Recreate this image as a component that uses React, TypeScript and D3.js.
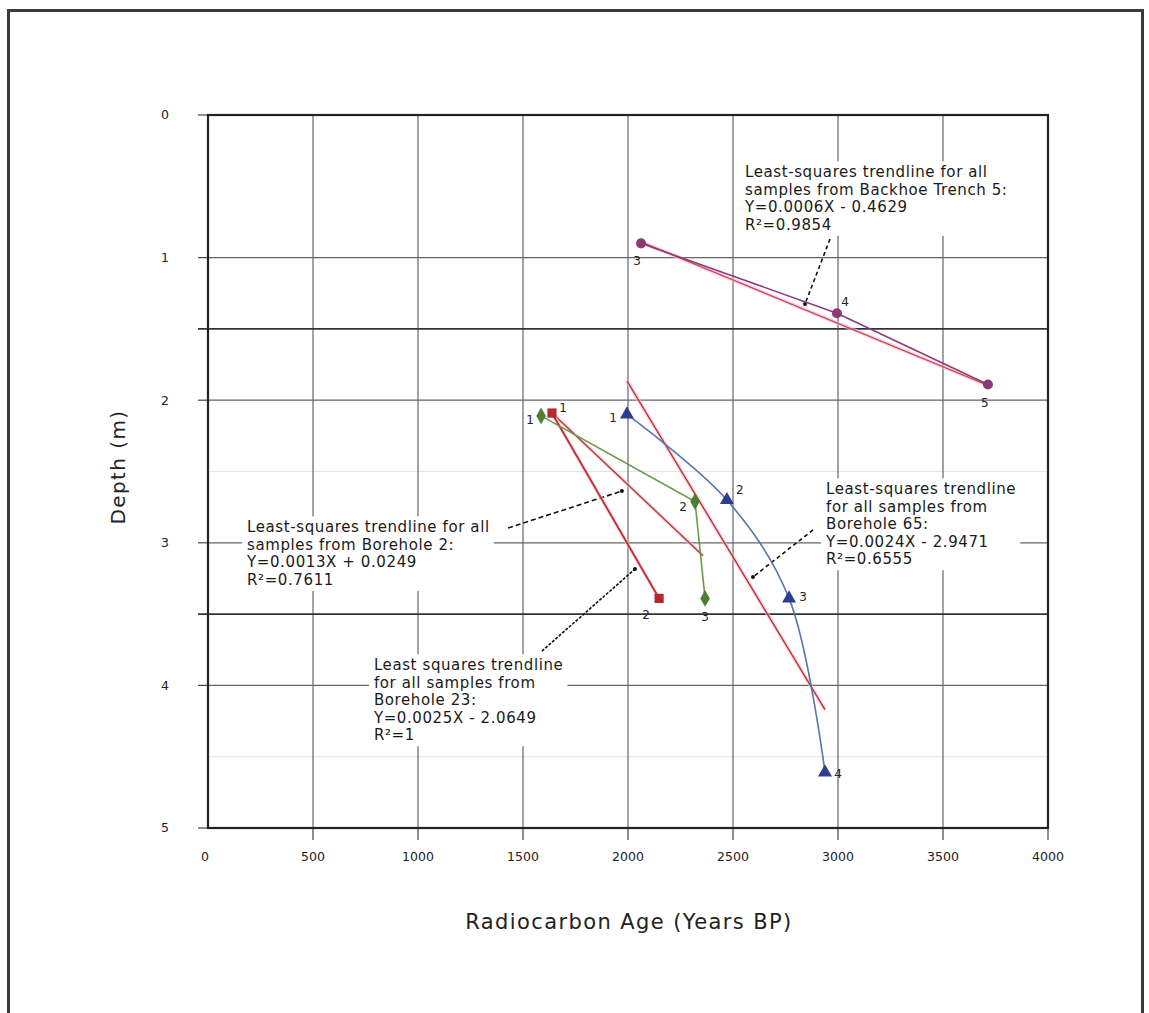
import React, { useEffect, useRef } from 'react';
import * as d3 from 'd3';

// ---------- data ----------
const ageTicks = [0, 500, 1000, 1500, 2000, 2500, 3000, 3500, 4000];
const depthTicks = [0, 1, 2, 3, 4, 5];
const darkDepthLines = [1.5, 3.5];
const faintDepthLines = [2.5, 4.5];

const trench5Age = [2062, 2995, 3714];
const trench5Depth = [0.9, 1.39, 1.89];
const trench5Labels = ['3', '4', '5'];

const bh23Age = [1638, 2148];
const bh23Depth = [2.09, 3.39];
const bh23Labels = ['1', '2'];

const bh2Age = [1586, 2319, 2367];
const bh2Depth = [2.11, 2.71, 3.39];
const bh2Labels = ['1', '2', '3'];

const bh65Age = [1995, 2471, 2767, 2938];
const bh65Depth = [2.1, 2.7, 3.39, 4.61];
const bh65Labels = ['1', '2', '3', '4'];

// trendline end points (age, depth)
const trendTrench5: [number, number][] = [[2062, 0.89], [3720, 1.9]];
const trendBh2: [number, number][] = [[1638, 2.09], [2357, 3.09]];
const trendBh23: [number, number][] = [[1638, 2.09], [2148, 3.39]];
const trendBh65: [number, number][] = [[1995, 1.865], [2938, 4.17]];

const noteTrench5 = ['Least-squares trendline for all', 'samples from Backhoe Trench 5:', 'Y=0.0006X - 0.4629', 'R²=0.9854'];
const noteBh2 = ['Least-squares trendline for all', 'samples from Borehole 2:', 'Y=0.0013X + 0.0249', 'R²=0.7611'];
const noteBh23 = ['Least squares trendline', 'for all samples from', 'Borehole 23:', 'Y=0.0025X - 2.0649', 'R²=1'];
const noteBh65 = ['Least-squares trendline', 'for all samples from', 'Borehole 65:', 'Y=0.0024X - 2.9471', 'R²=0.6555'];

// ---------- layout / style ----------
const W = 1149, H = 1013;
const PL = 208, PR = 1048, PT = 115, PB = 828;
const FONT = "'DejaVu Sans', sans-serif";

export default function App() {
  const ref = useRef<SVGSVGElement>(null);
  useEffect(() => {
    document.body.style.margin = '0';
    const svg = d3.select(ref.current);
    svg.selectAll('*').remove();
    const x = d3.scaleLinear().domain([0, 4000]).range([PL, PR]);
    const y = d3.scaleLinear().domain([0, 5]).range([PT, PB]);

    svg.append('rect').attr('x', 0).attr('y', 0).attr('width', W).attr('height', H).attr('fill', '#fff');
    svg.append('rect').attr('x', 8.5).attr('y', 10.5).attr('width', 1134).attr('height', 1030)
      .attr('fill', 'none').attr('stroke', '#3a3a3a').attr('stroke-width', 3);

    const g = svg.append('g');
    // grid
    g.selectAll('.fh').data(faintDepthLines).join('line')
      .attr('x1', PL).attr('x2', PR).attr('y1', d => y(d)).attr('y2', d => y(d))
      .attr('stroke', '#e2e2e2').attr('stroke-width', 1);
    g.selectAll('.vg').data(ageTicks.slice(1, -1)).join('line')
      .attr('x1', d => x(d)).attr('x2', d => x(d)).attr('y1', PT).attr('y2', PB)
      .attr('stroke', '#666').attr('stroke-width', 1.2);
    g.selectAll('.hg').data(depthTicks.slice(1, -1)).join('line')
      .attr('x1', PL).attr('x2', PR).attr('y1', d => y(d)).attr('y2', d => y(d))
      .attr('stroke', '#666').attr('stroke-width', 1.2);
    g.selectAll('.dh').data(darkDepthLines).join('line')
      .attr('x1', PL - 10).attr('x2', PR).attr('y1', d => y(d)).attr('y2', d => y(d))
      .attr('stroke', '#333').attr('stroke-width', 1.6);

    // ticks
    g.selectAll('.yt').data(depthTicks).join('line')
      .attr('x1', PL - 10).attr('x2', PL).attr('y1', d => y(d)).attr('y2', d => y(d))
      .attr('stroke', '#444').attr('stroke-width', 1.2);
    g.selectAll('.xt').data(ageTicks.slice(1)).join('line')
      .attr('x1', d => x(d)).attr('x2', d => x(d)).attr('y1', PB).attr('y2', PB + 12)
      .attr('stroke', '#444').attr('stroke-width', 1.2);

    // frame
    g.append('rect').attr('x', PL).attr('y', PT).attr('width', PR - PL).attr('height', PB - PT)
      .attr('fill', 'none').attr('stroke', '#222').attr('stroke-width', 2.2);

    // tick labels
    g.selectAll('.yl').data(depthTicks).join('text')
      .attr('x', 165).attr('y', d => y(d)).attr('dy', '0.35em').attr('text-anchor', 'middle')
      .attr('font-family', FONT).attr('font-size', 12.5).attr('fill', '#222').text(d => String(d));
    g.selectAll('.xl').data(ageTicks).join('text')
      .attr('x', d => x(d) - (d === 0 ? 3 : 0)).attr('y', 857).attr('dy', '0.35em').attr('text-anchor', 'middle')
      .attr('font-family', FONT).attr('font-size', 12.5).attr('fill', '#222').text(d => String(d));

    // axis titles
    g.append('text').attr('transform', `translate(118,${467}) rotate(-90)`)
      .attr('text-anchor', 'middle').attr('dy', '0.35em').attr('font-family', FONT).attr('font-size', 20)
      .attr('letter-spacing', 1.4).attr('fill', '#222')
      .text('Depth (m)');
    g.append('text').attr('x', 629).attr('y', 922).attr('dy', '0.35em').attr('text-anchor', 'middle')
      .attr('font-family', FONT).attr('font-size', 21).attr('letter-spacing', 1.4).attr('fill', '#222')
      .text('Radiocarbon Age (Years BP)');

    // annotation boxes with text
    const note = (lines: string[], ax: number, ad: number, lh: number) => {
      const ng = g.append('g');
      const bg = ng.append('rect').attr('fill', '#fff');
      const t = ng.append('text').attr('font-family', FONT).attr('font-size', 15)
        .attr('letter-spacing', 0.6).attr('fill', '#1a1a1a');
      lines.forEach((l, i) => {
        t.append('tspan').attr('x', x(ax)).attr('y', y(ad) + i * lh).attr('dy', '0.35em').text(l);
      });
      const bb = (t.node() as SVGTextElement).getBBox();
      bg.attr('x', bb.x - 4).attr('y', bb.y - 2).attr('width', bb.width + 8).attr('height', bb.height + 4);
    };
    note(noteTrench5, 2557, 0.4, 17.5);
    note(noteBh2, 186, 2.89, 17.5);
    note(noteBh23, 790, 3.857, 17.5);
    note(noteBh65, 2943, 2.623, 17.5);

    // leader lines
    const leader = (a: [number, number], b: [number, number], dash: string) => {
      g.append('line').attr('x1', x(a[0])).attr('y1', y(a[1])).attr('x2', x(b[0])).attr('y2', y(b[1]))
        .attr('stroke', '#111').attr('stroke-width', 1.6).attr('stroke-dasharray', dash);
      g.append('circle').attr('cx', x(b[0])).attr('cy', y(b[1])).attr('r', 2).attr('fill', '#111');
    };
    leader([2962, 0.87], [2843, 1.325], '4,3');
    leader([1429, 2.896], [1971, 2.637], '5,3');
    leader([1590, 3.759], [2033, 3.184], '3,1.5');
    leader([2881, 2.91], [2595, 3.24], '4,3');

    // trendlines
    const trend = (pts: [number, number][], color: string) => {
      const l = d3.line<[number, number]>().x(d => x(d[0])).y(d => y(d[1]));
      g.append('path').attr('d', l(pts)).attr('stroke', '#f6c4cc').attr('stroke-width', 4).attr('fill', 'none').attr('opacity', 0.6);
      g.append('path').attr('d', l(pts)).attr('stroke', color).attr('stroke-width', 1.4).attr('fill', 'none');
    };
    trend(trendTrench5, '#cc4866');
    trend(trendBh2, '#b23a3e');
    trend(trendBh23, '#c0303a');
    trend(trendBh65, '#c0303a');

    // series
    type S = { ages: number[]; depths: number[]; labels: string[]; line: string; mark: string; sym: d3.SymbolType; size: number; curve: d3.CurveFactory; off: [number, number][] };
    const series: S[] = [
      { ages: trench5Age, depths: trench5Depth, labels: trench5Labels, line: '#8e3b7d', mark: '#8a3a78', sym: d3.symbolCircle, size: 80, curve: d3.curveLinear, off: [[-4, 17], [8, -11], [-3, 18]] },
      { ages: bh23Age, depths: bh23Depth, labels: bh23Labels, line: '#c0303a', mark: '#b8282e', sym: d3.symbolSquare, size: 85, curve: d3.curveLinear, off: [[11, -5], [-13, 16]] },
      { ages: bh2Age, depths: bh2Depth, labels: bh2Labels, line: '#6a9a4a', mark: '#4e7d34', sym: d3.symbolDiamond, size: 80, curve: d3.curveLinear, off: [[-11, 4], [-12, 5], [0, 18]] },
      { ages: bh65Age, depths: bh65Depth, labels: bh65Labels, line: '#5577aa', mark: '#2e3d8f', sym: d3.symbolTriangle, size: 85, curve: d3.curveCatmullRom, off: [[-14, 3], [13, -10], [14, -2], [13, 1]] },
    ];
    series.forEach(s => {
      const pts = s.ages.map((a, i) => [a, s.depths[i]] as [number, number]);
      const l = d3.line<[number, number]>().x(d => x(d[0])).y(d => y(d[1])).curve(s.curve);
      g.append('path').attr('d', l(pts)).attr('stroke', s.line).attr('stroke-width', 1.6).attr('fill', 'none');
      pts.forEach((p, i) => {
        g.append('path').attr('d', d3.symbol().type(s.sym).size(s.size)())
          .attr('transform', `translate(${x(p[0])},${y(p[1])})`).attr('fill', s.mark);
        g.append('text').attr('x', x(p[0]) + s.off[i][0]).attr('y', y(p[1]) + s.off[i][1]).attr('dy', '0.35em')
          .attr('text-anchor', 'middle').attr('font-family', FONT).attr('font-size', 12).attr('fill', '#222')
          .text(s.labels[i]);
      });
    });
  }, []);
  return <svg ref={ref} width={W} height={H} style={{ display: 'block' }} />;
}
